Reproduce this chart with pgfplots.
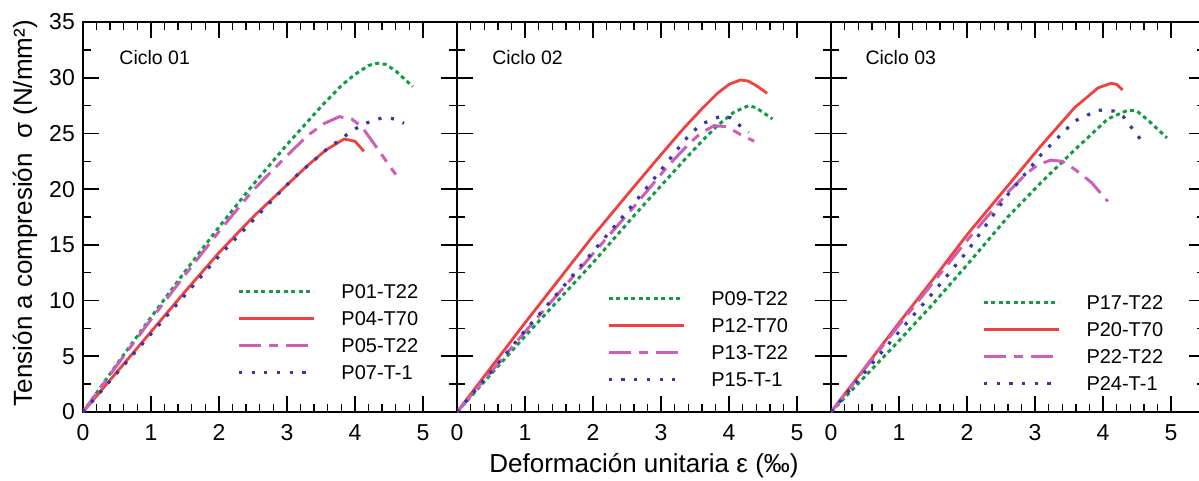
\documentclass[border=0pt]{standalone}
\usepackage{fontspec}
\setmainfont{Liberation Sans}
\usepackage{pgfplots}
\pgfplotsset{compat=1.18}

\definecolor{cgreen}{RGB}{20,155,70}
\definecolor{cred}{RGB}{240,65,65}
\definecolor{cmag}{RGB}{205,95,185}
\definecolor{cblue}{RGB}{55,55,170}

\tikzset{cyc/.style={anchor=west, font=\fontsize{19.5}{22}\selectfont}}
\pgfplotsset{
  panel/.style={
    scale only axis, width=374pt, height=390pt,
    xmin=0, xmax=5.5, ymin=0, ymax=35,
    xtick={0,1,...,5}, ytick={0,5,...,35},
    minor x tick num=4, minor y tick num=1,
    xtick pos=both, ytick pos=both, xtick align=inside, ytick align=inside,
    axis line style={line width=1.8pt},
    tick label style={font=\fontsize{23}{26}\selectfont, inner sep=0pt},
    /pgf/number format/assume math mode=true,
    xticklabel style={yshift=-12pt},
    yticklabel style={xshift=-8pt},
    legend style={draw=none, fill=none, inner sep=0pt, anchor=north west,
      font=\fontsize{20}{24}\selectfont, row sep=13pt,
      nodes={inner sep=0pt, text height=14pt, text depth=0pt}},
    legend cell align=left,
    legend image code/.code={\draw[##1] (0pt,0pt) -- (75pt,0pt); \path (101pt,0pt);},
  },
  sgreen/.style={cgreen, line width=3pt, dash pattern=on 4pt off 3.5pt},
  sred/.style={cred, line width=2.8pt},
  smag/.style={cmag, line width=3pt, dash pattern=on 22pt off 8pt on 9pt off 8pt},
  sblue/.style={cblue, line width=3.2pt, dash pattern=on 3.2pt off 9.5pt},
}
\pgfplotsset{
  every axis/.append style={
    major tick length=16pt, minor tick length=8pt,
    every major tick/.append style={draw=black, line width=1.6pt},
    every minor tick/.append style={draw=black, line width=1.4pt},
  },
}

\begin{document}
\begin{tikzpicture}
% Ciclo 01
\begin{axis}[panel,
  ylabel={Tensión a compresión\ \ σ (N/mm²)},
  ylabel style={at={(axis description cs:-0.155,0.51)}, anchor=center, font=\fontsize{26}{30}\selectfont},
  legend style={at={(0.412,0.328)}}]
\addplot[sgreen] coordinates {(0,0) (0.5,4.3) (1,8.5) (1.5,12.6) (2,16.6) (2.5,20.4) (3,24.0) (3.5,27.4) (3.8,29.3) (4.0,30.3) (4.2,31.1) (4.33,31.3) (4.45,31.2) (4.6,30.6) (4.85,29.2)};
\addlegendentry{P01-T22}
\addplot[sred] coordinates {(0,0) (0.5,3.6) (1,7.2) (1.5,10.8) (2,14.3) (2.5,17.5) (2.9,19.8) (3.3,22.1) (3.57,23.5) (3.84,24.5) (4.0,24.3) (4.13,23.4)};
\addlegendentry{P04-T70}
\addplot[smag] coordinates {(0,0) (0.5,4.2) (1,8.3) (1.5,12.3) (2,16.2) (2.5,19.9) (3,23.0) (3.3,24.8) (3.55,25.9) (3.77,26.5) (3.95,26.3) (4.1,25.6) (4.3,23.9) (4.45,22.6) (4.6,21.3)};
\addlegendentry{P05-T22}
\addplot[sblue] coordinates {(0,0) (0.5,3.5) (1,7.0) (1.5,10.5) (2,14.0) (2.5,17.2) (3.08,20.9) (3.57,23.5) (3.86,24.8) (4.1,25.8) (4.4,26.4) (4.6,26.3) (4.72,25.9)};
\addlegendentry{P07-T-1}
\node[cyc] at (rel axis cs:0.088,0.908) {Ciclo 01};
\end{axis}
% Ciclo 02
\begin{axis}[panel, at={(374pt,0pt)}, yticklabels={},
  xlabel={Deformación unitaria ε (‰)},
  xlabel style={at={(axis description cs:0.5,0)}, anchor=center, yshift=-54pt, font=\fontsize{26}{30}\selectfont},
  legend style={at={(0.401,0.310)}}]
\addplot[sgreen] coordinates {(0,0) (0.5,3.4) (1,6.8) (1.5,10.1) (2,13.4) (2.6,17.6) (3,20.3) (3.34,22.6) (3.6,24.3) (3.83,25.7) (4.07,26.9) (4.29,27.5) (4.4,27.3) (4.64,26.3)};
\addlegendentry{P09-T22}
\addplot[sred] coordinates {(0,0) (0.5,4.0) (1,8.0) (1.5,11.9) (2,15.8) (2.6,20.2) (3,23.1) (3.34,25.5) (3.6,27.2) (3.83,28.6) (4.0,29.4) (4.17,29.8) (4.28,29.7) (4.4,29.3) (4.56,28.6)};
\addlegendentry{P12-T70}
\addplot[smag] coordinates {(0,0) (0.5,3.6) (1,7.2) (1.5,10.7) (2,14.2) (2.6,18.4) (3.09,22.0) (3.4,24.0) (3.58,25.0) (3.78,25.7) (3.97,25.6) (4.17,24.9) (4.37,24.3)};
\addlegendentry{P13-T22}
\addplot[sblue] coordinates {(0,0) (0.5,3.6) (1,7.3) (1.5,10.8) (2,14.4) (2.6,18.7) (3.09,22.4) (3.35,24.4) (3.58,25.8) (3.9,26.6) (4.02,26.4) (4.14,25.8) (4.29,25.1)};
\addlegendentry{P15-T-1}
\node[cyc] at (rel axis cs:0.085,0.908) {Ciclo 02};
\end{axis}
% Ciclo 03
\begin{axis}[panel, at={(748pt,0pt)}, yticklabels={},
  legend style={at={(0.404,0.300)}}]
\addplot[sgreen] coordinates {(0,0) (0.5,3.2) (1,6.4) (1.5,9.7) (2,13.2) (2.6,17.5) (3.09,20.6) (3.58,23.5) (4.07,26.3) (4.37,27.1) (4.5,27.0) (4.66,26.2) (4.8,25.4) (4.94,24.6)};
\addlegendentry{P17-T22}
\addplot[sred] coordinates {(0,0) (0.5,4.0) (1,8.0) (1.5,11.9) (2,15.9) (2.6,20.3) (3.09,23.9) (3.58,27.3) (3.93,29.1) (4.12,29.5) (4.2,29.4) (4.29,28.9)};
\addlegendentry{P20-T70}
\addplot[smag] coordinates {(0,0) (0.5,3.9) (1,7.8) (1.5,11.6) (2,15.4) (2.6,19.7) (2.89,21.5) (3.05,22.2) (3.23,22.6) (3.4,22.5) (3.58,21.8) (3.83,20.6) (4.07,18.9)};
\addlegendentry{P22-T22}
\addplot[sblue] coordinates {(0,0) (0.5,3.6) (1,7.2) (1.5,10.7) (2,14.4) (2.6,19.5) (3.09,23.1) (3.58,26.1) (3.93,27.1) (4.17,27.0) (4.3,26.5) (4.41,25.6) (4.61,24.0)};
\addlegendentry{P24-T-1}
\node[cyc] at (rel axis cs:0.083,0.908) {Ciclo 03};
\end{axis}
\pgfresetboundingbox
\path[use as bounding box] (-83pt,-68pt) rectangle (1116pt,412pt);
\end{tikzpicture}
\end{document}
